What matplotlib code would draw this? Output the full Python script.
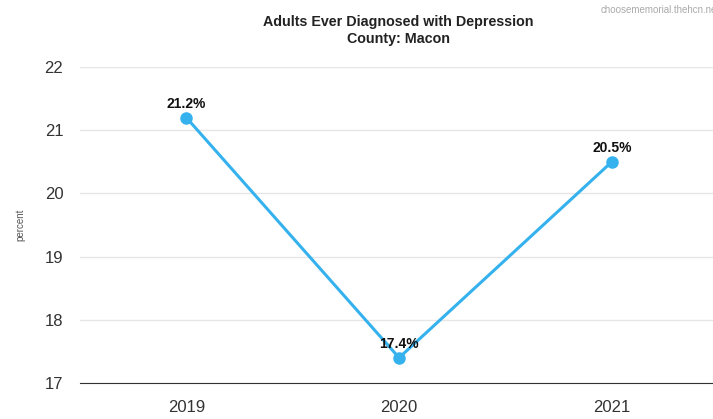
import matplotlib.pyplot as plt

plt.rcParams['font.family'] = ['Liberation Sans', 'DejaVu Sans']

anos = ['2019', '2020', '2021']
percentual = [21.2, 17.4, 20.5]
rotulos = ['21.2%', '17.4%', '20.5%']
yticks = [17, 18, 19, 20, 21, 22]

fig = plt.figure(figsize=(7.13, 4.19), dpi=100)
ax = fig.add_axes([0.1122, 0.0859, 0.895, 0.754])

x = range(len(anos))
ax.plot(x, percentual, color='#35b2ee', linewidth=2.2, marker='o',
        markersize=8, zorder=3, clip_on=False)

for xi, v, r in zip(x, percentual, rotulos):
    ax.annotate(r, (xi, v), xytext=(0, 5), textcoords='offset points',
                ha='center', va='bottom', fontsize=10, fontweight='bold',
                color='#111111', zorder=4)

ax.set_xlim(-0.5, 2.5)
ax.set_ylim(17, 22)
ax.set_xticks(list(x))
ax.set_xticklabels(anos)
ax.set_yticks(yticks)

ax.grid(axis='y', color='#e6e6e6', linewidth=1)
ax.set_axisbelow(True)
for s in ['top', 'right', 'left']:
    ax.spines[s].set_visible(False)
ax.spines['bottom'].set_color('#333333')
ax.tick_params(axis='both', length=0, labelsize=12, colors='#333333')
ax.tick_params(axis='x', pad=12)
ax.tick_params(axis='y', pad=12)

ax.set_ylabel('percent', fontsize=7, color='#555555', labelpad=14)

fig.text(0.559, 0.928, 'Adults Ever Diagnosed with Depression\nCounty: Macon',
         ha='center', va='center', fontsize=10.3, fontweight='bold',
         color='#222222', linespacing=1.3)
fig.text(0.842, 0.975, 'choosememorial.thehcn.net', ha='left', va='center',
         fontsize=7, color='#aaaaaa')

fig.savefig('out.png', dpi=100)
